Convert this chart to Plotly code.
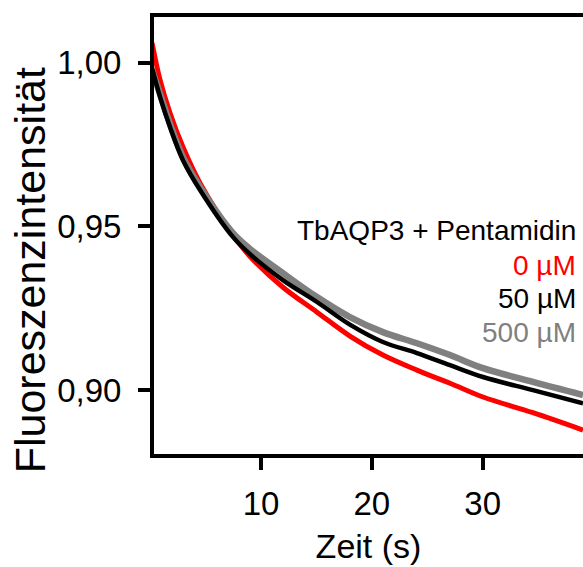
import plotly.graph_objects as go

# Time (s)
time_s = [0.17, 0.89, 1.79, 2.96, 4.50, 7.48, 9.01, 11.98, 15.05, 18.02, 21.0, 24.07, 27.05, 30.03, 34.53, 39.05]

# Fluorescence intensity for the three pentamidine concentrations
f_0uM = [1.0060, 0.9947, 0.9846, 0.9742, 0.9632, 0.9473, 0.9408, 0.9314, 0.9238, 0.9165, 0.9107, 0.9061, 0.9021, 0.8979, 0.8931, 0.8878]
f_50uM = [0.9983, 0.9895, 0.9803, 0.9702, 0.9611, 0.9467, 0.9415, 0.9336, 0.9269, 0.9200, 0.9147, 0.9113, 0.9076, 0.9040, 0.9000, 0.8960]
f_500uM = [0.9977, 0.9904, 0.9812, 0.9711, 0.9620, 0.9479, 0.9431, 0.9357, 0.9284, 0.9223, 0.9177, 0.9143, 0.9107, 0.9067, 0.9025, 0.8985]

x_ticks = [10, 20, 30]
y_ticks = [0.90, 0.95, 1.00]

y_title = "Fluoreszenzintensität"
x_title = "Zeit (s)"
legend_title = "TbAQP3 + Pentamidin"
legend_labels = ["0 µM", "50 µM", "500 µM"]
colors = ["#ff0000", "#000000", "#808080"]

FONT = "Liberation Sans, Arial, sans-serif"

fig = go.Figure()
series = [(f_0uM, colors[0], 5), (f_500uM, colors[2], 6.5), (f_50uM, colors[1], 4.5)]
for vals, col, w in series:
    fig.add_trace(go.Scatter(x=time_s, y=vals, mode="lines",
                             line=dict(color=col, width=w, shape="spline", smoothing=1.0),
                             showlegend=False, hoverinfo="skip"))

# legend-like annotations
ann_y = [0.512, 0.432, 0.355, 0.278]
texts = [legend_title] + legend_labels
tcolors = ["#000000"] + colors
for txt, yy, col in zip(texts, ann_y, tcolors):
    fig.add_annotation(text=txt, xref="paper", yref="paper", x=1, y=yy,
                       xanchor="right", yanchor="middle", xshift=-5, showarrow=False,
                       font=dict(family=FONT, size=28, color=col))

# y-axis title (placed as annotation to match its larger size and lower position)
fig.add_annotation(text=y_title, xref="paper", yref="paper", x=-0.287, y=0.42,
                   xanchor="center", yanchor="middle", textangle=-90, showarrow=False,
                   font=dict(family=FONT, size=43, color="black"))

fig.update_layout(
    width=583, height=567,
    margin=dict(l=154, r=0, t=17, b=113),
    paper_bgcolor="white", plot_bgcolor="white",
    separators=",.",
    font=dict(family=FONT, color="black"),
)
fig.update_xaxes(
    range=[0.346, 39.05], tickvals=x_ticks, ticks="outside", ticklen=12, tickwidth=4,
    tickcolor="black", showline=True, linewidth=4, linecolor="black", mirror=True,
    showgrid=False, zeroline=False, tickfont=dict(size=33, family=FONT),
    ticklabelstandoff=5,
    title=dict(text=x_title, font=dict(size=34, family=FONT), standoff=15),
)
fig.update_yaxes(
    range=[0.8805, 1.0139], tickvals=y_ticks, tickformat=".2f", ticks="outside",
    ticklen=12, tickwidth=4, tickcolor="black", showline=True, linewidth=4,
    linecolor="black", showgrid=False, zeroline=False,
    tickfont=dict(size=33, family=FONT), ticklabelstandoff=10,
)

fig.write_html("out.html")
